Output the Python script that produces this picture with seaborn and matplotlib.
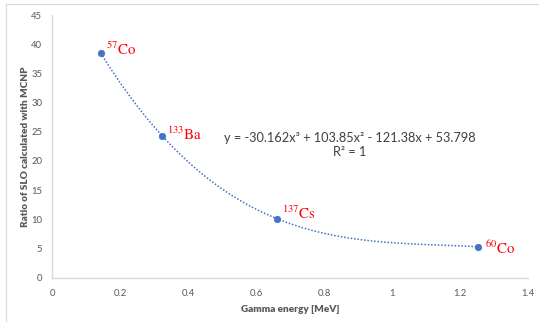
import matplotlib

matplotlib.use('Agg')
import matplotlib.pyplot as plt
import seaborn as sns
import pandas as pd
from matplotlib.lines import Line2D
from matplotlib.ticker import FuncFormatter

# data
sources = ['57', '133', '137', '60']
elements = ['Co', 'Ba', 'Cs', 'Co']
energy = [0.143, 0.324, 0.662, 1.254]
ratio = [38.5, 24.3, 10.1, 5.3]
x_ticks = [0, 0.2, 0.4, 0.6, 0.8, 1.0, 1.2, 1.4]
y_ticks = [0, 5, 10, 15, 20, 25, 30, 35, 40, 45]

df = pd.DataFrame({'energy': energy, 'ratio': ratio})

sns.set_style('white')
plt.rcParams['font.family'] = ['Lato', 'DejaVu Sans']
plt.rcParams['mathtext.fontset'] = 'stix'

blue = '#4472C4'
grey = '#595959'

fig = plt.figure(figsize=(5.39, 3.22), dpi=100)
ax = fig.add_axes([0.0965, 0.1376, 0.8831, 0.8158])

# cubic trendline (exact fit through 4 points), dotted like Excel
sns.regplot(data=df, x='energy', y='ratio', order=3, ci=None, scatter=False,
            truncate=True, ax=ax,
            line_kws={'color': blue, 'lw': 1.1, 'ls': (0, (1, 1.2))})
sns.scatterplot(data=df, x='energy', y='ratio', color=blue, s=22,
                edgecolor=blue, linewidth=0.5, ax=ax, zorder=3)

offsets = [(5, 4), (5, 1), (5, 5), (7, -1)]
for xs, ys, iso, el, off in zip(energy, ratio, sources, elements, offsets):
    ax.annotate(r'$^{%s}\mathrm{%s}$' % (iso, el), (xs, ys), xytext=off,
                textcoords='offset pixels', color='#FF0000', fontsize=10.8,
                ha='left', va='center')

ax.text(0.625, 0.505, 'y = -30.162x³ + 103.85x² - 121.38x + 53.798\nR² = 1',
        transform=ax.transAxes, ha='center', va='center', fontsize=9.2,
        color='#404040', linespacing=1.2)

ax.set_xlim(0, 1.4)
ax.set_ylim(0, 45)
ax.set_xticks(x_ticks)
ax.set_yticks(y_ticks)
ax.xaxis.set_major_formatter(FuncFormatter(lambda v, p: f'{v:g}'))
ax.tick_params(axis='both', length=0, labelsize=6.8, labelcolor=grey)
ax.tick_params(axis='x', pad=8)
ax.tick_params(axis='y', pad=7)

ax.set_xlabel('Gamma energy [MeV]', fontsize=7.2, fontweight='heavy', color=grey, labelpad=5)
ax.set_ylabel('Ratio of SLO calculated with MCNP', fontsize=7.2, fontweight='heavy',
              color=grey, labelpad=1)

for side in ['top', 'right']:
    ax.spines[side].set_visible(False)
for side in ['left', 'bottom']:
    ax.spines[side].set_color('#D9D9D9')
    ax.spines[side].set_linewidth(1)

# chart-area frame
fig.add_artist(Line2D([6 / 539, 6 / 539], [0, 1 - 4 / 322], color='#D9D9D9', lw=0.8))
fig.add_artist(Line2D([6 / 539, 1], [1 - 4 / 322, 1 - 4 / 322], color='#D9D9D9', lw=0.8))

plt.savefig('out.png', dpi=100)
plt.close()
